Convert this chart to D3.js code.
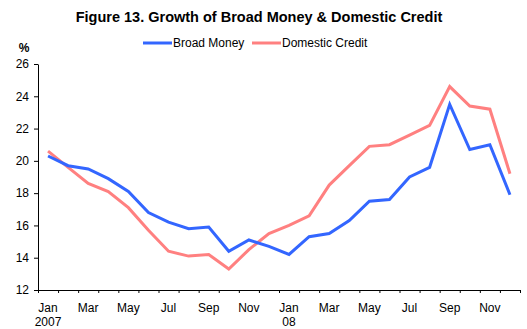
<!DOCTYPE html>
<meta charset="utf-8">
<style>
body { margin: 0; background: #fff; }
text { font-family: "Liberation Sans", Arial, sans-serif; }
.axis path, .axis line { stroke: #000; }
</style>
<body>
<script src="https://cdn.jsdelivr.net/npm/d3@7"></script>
<script>
// monthly data, Jan 2007 - Dec 2008
var months = ["Jan","Feb","Mar","Apr","May","Jun","Jul","Aug","Sep","Oct","Nov","Dec",
              "Jan","Feb","Mar","Apr","May","Jun","Jul","Aug","Sep","Oct","Nov","Dec"];
var years = {0: "2007", 12: "08"};
var broadMoney = [20.3, 19.7, 19.5, 18.9, 18.1, 16.8, 16.2, 15.8, 15.9, 14.4, 15.1, 14.7,
                  14.2, 15.3, 15.5, 16.3, 17.5, 17.6, 19.0, 19.6, 23.5, 20.7, 21.0, 17.9];
var domesticCredit = [20.6, 19.6, 18.6, 18.1, 17.1, 15.7, 14.4, 14.1, 14.2, 13.3, 14.5, 15.5,
                      16.0, 16.6, 18.5, 19.7, 20.9, 21.0, 21.6, 22.2, 24.6, 23.4, 23.2, 19.2];
var yTicks = [12, 14, 16, 18, 20, 22, 24, 26];

var width = 527, height = 329;
var margin = {top: 64, right: 7, bottom: 39, left: 38};

var svg = d3.select("body").append("svg")
    .attr("width", width)
    .attr("height", height);

var x = d3.scaleLinear().domain([0, months.length]).range([margin.left, width - margin.right]);
var y = d3.scaleLinear().domain([12, 26]).range([height - margin.bottom, margin.top]);

// title
svg.append("text")
    .attr("x", 259)
    .attr("y", 22)
    .attr("text-anchor", "middle")
    .style("font-size", "14.5px")
    .style("font-weight", "bold")
    .text("Figure 13. Growth of Broad Money & Domestic Credit");

// y axis
svg.append("g")
    .attr("class", "axis")
    .attr("transform", "translate(" + margin.left + ",0)")
    .call(d3.axisLeft(y).tickValues(yTicks).tickSize(4).tickPadding(5).tickSizeOuter(0))
    .call(function(g) { g.selectAll("text").style("font-size", "12px").attr("fill", "#000"); });

svg.append("text")
    .attr("x", 24)
    .attr("y", 52)
    .attr("text-anchor", "middle")
    .style("font-size", "12px")
    .style("font-weight", "bold")
    .text("%");

// x axis
svg.append("g")
    .attr("class", "axis")
    .attr("transform", "translate(0," + y(12) + ")")
    .call(d3.axisBottom(x).tickValues(d3.range(months.length + 1)).tickFormat("").tickSize(3).tickSizeOuter(0));

var lab = svg.append("g");
months.forEach(function(m, i) {
  if (i % 2 == 0) {
    lab.append("text")
        .attr("x", x(i + 0.5))
        .attr("y", 312)
        .attr("text-anchor", "middle")
        .style("font-size", "12px")
        .text(m);
  }
  if (years[i]) {
    lab.append("text")
        .attr("x", x(i + 0.5))
        .attr("y", 326)
        .attr("text-anchor", "middle")
        .style("font-size", "12px")
        .text(years[i]);
  }
});

// lines
var line = d3.line()
    .x(function(d, i) { return x(i + 0.5); })
    .y(function(d) { return y(d); });

svg.append("path")
    .datum(domesticCredit)
    .attr("fill", "none")
    .attr("stroke", "#FF8080")
    .attr("stroke-width", 3)
    .attr("d", line);

svg.append("path")
    .datum(broadMoney)
    .attr("fill", "none")
    .attr("stroke", "#3366FF")
    .attr("stroke-width", 3)
    .attr("d", line);

// legend
var legend = [
  {name: "Broad Money", color: "#3366FF", x: 143},
  {name: "Domestic Credit", color: "#FF8080", x: 252}
];
legend.forEach(function(l) {
  svg.append("line")
      .attr("x1", l.x).attr("x2", l.x + 29)
      .attr("y1", 43).attr("y2", 43)
      .attr("stroke", l.color)
      .attr("stroke-width", 3);
  svg.append("text")
      .attr("x", l.x + 30)
      .attr("y", 47)
      .style("font-size", "12px")
      .text(l.name);
});
</script>
</body>
